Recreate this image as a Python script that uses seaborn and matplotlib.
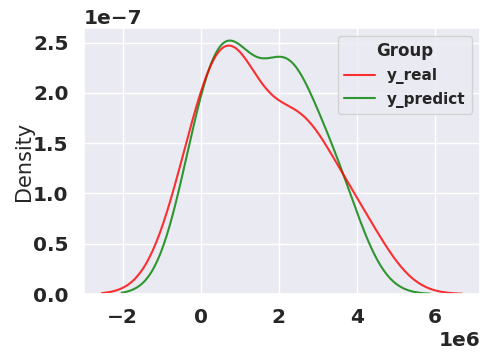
import pandas as pd
import matplotlib
matplotlib.use('Agg')
import matplotlib.pyplot as plt
import seaborn as sns

# values (sample points behind each KDE)
y_real = [-210000, -210000, -210000, 140000, 690000, 700000, 780000, 780000,
          840000, 940000, 1260000, 1910000, 2330000, 2390000, 2480000,
          2680000, 2980000, 3470000, 3930000, 4370000]
y_predict = [0, 0, 0, 0, 770000, 790000, 800000, 840000, 860000, 1250000,
             2120000, 2120000, 2130000, 2170000, 2260000, 2310000, 3160000,
             3180000, 3400000, 3850000]
groups = ['y_real', 'y_predict']
colors = {'y_real': 'red', 'y_predict': 'green'}

df = pd.DataFrame({
    'value': y_real + y_predict,
    'Group': ['y_real'] * len(y_real) + ['y_predict'] * len(y_predict),
})

sns.set_theme(style='darkgrid')
plt.rcParams['font.family'] = ['DejaVu Sans']
plt.rcParams['font.weight'] = 'bold'

fig = plt.figure(figsize=(4.82, 3.53), dpi=100)
ax = fig.add_axes([0.174, 0.167, 0.822, 0.754])
sns.kdeplot(data=df, x='value', hue='Group', hue_order=groups,
            palette=colors, common_norm=False, alpha=0.8, ax=ax)

ax.set_xlabel('')
ax.set_ylabel('Density', fontsize=15, fontweight='normal', labelpad=-1)
ax.tick_params(axis='both', labelsize=14.5)
ax.tick_params(axis='y', pad=5)
ax.tick_params(axis='x', pad=4)
ax.yaxis.get_offset_text().set_fontsize(14.5)
ax.xaxis.get_offset_text().set_fontsize(14.5)

sns.move_legend(ax, 'upper right', title='Group', fontsize=11,
                title_fontsize=12, borderaxespad=0.55)

fig.savefig('out.png', dpi=100)
